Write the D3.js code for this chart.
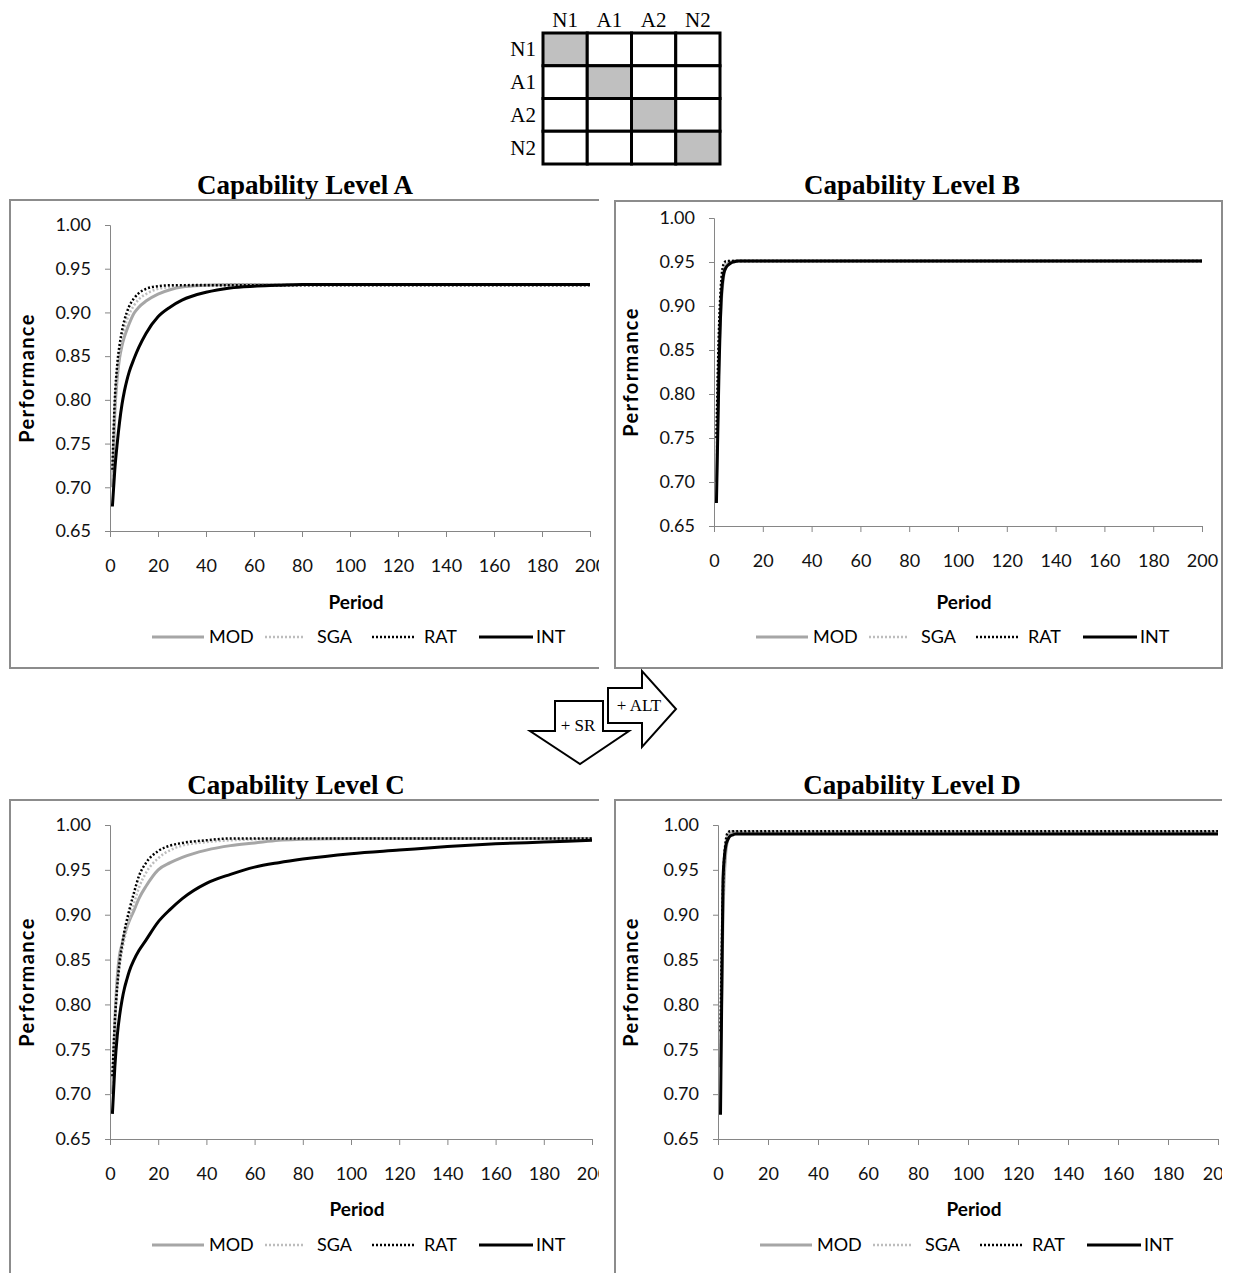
<html>
<head>
    <title>Capability levels</title>
    <meta charset="UTF-8" />
    <script src="https://d3js.org/d3.v7.min.js"></script>
    <style>
        body { margin: 0; background: #fff; }
        .axis .domain, .axis line { stroke: #868686; }
        .axis text { font-family: Lato, sans-serif; font-size: 18px; fill: #111; }
        .ttl { font-family: "Liberation Serif", serif; font-weight: bold; font-size: 27px; }
        .lbl { font-family: Lato, sans-serif; font-weight: bold; font-size: 19px; }
        .perf { letter-spacing: 1.4px; font-size: 20px; }
        .leg { font-family: Lato, sans-serif; font-size: 18px; }
        .mx { font-family: "Liberation Serif", serif; font-size: 21px; }
    </style>
</head>
<body>
<svg id="svg1" width="1239" height="1273"></svg>
<script>
// periods sampled from the curves
const periods = [1,2,3,4,5,6,7,8,10,12,15,20,25,30,40,50,60,70,80,100,120,140,160,180,200];

const modA = [.700,.785,.825,.848,.862,.872,.880,.887,.899,.906,.913,.921,.926,.929,.931,.932,.932,.932,.932,.932,.932,.932,.932,.932,.932];
const sgaA = [.710,.790,.830,.853,.869,.881,.891,.898,.908,.915,.921,.927,.929,.931,.932,.932,.932,.932,.932,.932,.932,.932,.932,.932,.932];
const ratA = [.720,.800,.840,.863,.879,.891,.900,.907,.916,.922,.927,.930,.931,.931,.931,.931,.931,.931,.931,.931,.931,.931,.931,.931,.931];
const intA = [.678,.720,.750,.775,.795,.810,.822,.832,.847,.860,.876,.895,.906,.914,.923,.928,.930,.931,.932,.932,.932,.932,.932,.932,.932];

const modB = [.700,.840,.905,.935,.945,.949,.950,.951,.951,.951,.951,.951,.951,.951,.951,.951,.951,.951,.951,.951,.951,.951,.951,.951,.951];
const sgaB = [.730,.860,.920,.945,.950,.951,.951,.951,.951,.951,.951,.951,.951,.951,.951,.951,.951,.951,.951,.951,.951,.951,.951,.951,.951];
const ratB = [.750,.870,.930,.948,.951,.951,.951,.951,.951,.951,.951,.951,.951,.951,.951,.951,.951,.951,.951,.951,.951,.951,.951,.951,.951];
const intB = [.676,.820,.910,.937,.944,.947,.949,.950,.951,.951,.951,.951,.951,.951,.951,.951,.951,.951,.951,.951,.951,.951,.951,.951,.951];

const modC = [.700,.780,.830,.856,.867,.878,.886,.893,.905,.918,.932,.950,.958,.964,.972,.977,.980,.983,.984,.985,.985,.985,.985,.985,.985];
const sgaC = [.710,.780,.818,.843,.860,.873,.884,.895,.913,.930,.947,.963,.972,.977,.981,.983,.984,.985,.985,.985,.985,.985,.985,.985,.985];
const ratC = [.720,.780,.820,.847,.866,.882,.894,.905,.925,.943,.958,.971,.977,.980,.983,.985,.985,.985,.985,.985,.985,.985,.985,.985,.985];
const intC = [.678,.730,.765,.788,.805,.818,.828,.837,.850,.860,.872,.892,.906,.918,.935,.945,.953,.958,.962,.968,.972,.976,.979,.981,.983];

const modD = [.730,.900,.965,.985,.990,.992,.992,.992,.992,.992,.992,.992,.992,.992,.992,.992,.992,.992,.992,.992,.992,.992,.992,.992,.992];
const sgaD = [.750,.920,.975,.990,.993,.993,.993,.993,.993,.993,.993,.993,.993,.993,.993,.993,.993,.993,.993,.993,.993,.993,.993,.993,.993];
const ratD = [.770,.930,.980,.992,.993,.993,.993,.993,.993,.993,.993,.993,.993,.993,.993,.993,.993,.993,.993,.993,.993,.993,.993,.993,.993];
const intD = [.677,.940,.975,.984,.988,.989,.990,.990,.990,.990,.990,.990,.990,.990,.990,.990,.990,.990,.990,.990,.990,.990,.990,.990,.990];

const seriesNames = ["MOD", "SGA", "RAT", "INT"];
const yTicks = [0.65,0.70,0.75,0.80,0.85,0.90,0.95,1.00];
const xTicks = [0,20,40,60,80,100,120,140,160,180,200];
const matrixLabels = ["N1", "A1", "A2", "N2"];

// line styles per series
const styles = {
    MOD: {stroke: "#a6a6a6", width: 3, dash: null},
    SGA: {stroke: "#bdbdbd", width: 2.5, dash: "2,2"},
    RAT: {stroke: "#000", width: 2.5, dash: "2,2"},
    INT: {stroke: "#000", width: 3, dash: null}
};

const panels = [
    {title: "Capability Level A", data: [modA, sgaA, ratA, intA],
     box: [10, 200, 600, 468], clipW: 599, plot: [110, 590, 225, 531],
     titleX: 305, titleY: 194, perfX: 34, periodY: 609, legendY: 637},
    {title: "Capability Level B", data: [modB, sgaB, ratB, intB],
     box: [615, 201, 607, 467], clipW: 1239, plot: [714, 1202, 218, 526],
     titleX: 912, titleY: 194, perfX: 638, periodY: 609, legendY: 637},
    {title: "Capability Level C", data: [modC, sgaC, ratC, intC],
     box: [10, 800, 600, 520], clipW: 599, plot: [110, 592, 825, 1139],
     titleX: 296, titleY: 794, perfX: 34, periodY: 1216, legendY: 1245},
    {title: "Capability Level D", data: [modD, sgaD, ratD, intD],
     box: [615, 800, 640, 520], clipW: 1222, plot: [718, 1218, 825, 1139],
     titleX: 912, titleY: 794, perfX: 638, periodY: 1216, legendY: 1245}
];

const svg1 = d3.select("svg#svg1");

// legend item offsets from legend start
const legendLayout = [
    {line: [0, 52], text: 57},
    {line: [113, 153], text: 165},
    {line: [220, 262], text: 272},
    {line: [327, 381], text: 384}
];

panels.forEach((p, i) => {
    svg1.append("clipPath").attr("id", "clip" + i)
        .append("rect").attr("x", 0).attr("y", 0).attr("width", p.clipW).attr("height", 1273);

    svg1.append("text").attr("class", "ttl")
        .attr("x", p.titleX).attr("y", p.titleY)
        .attr("text-anchor", "middle")
        .text(p.title);

    const g = svg1.append("g").attr("clip-path", "url(#clip" + i + ")");

    g.append("rect")
        .attr("x", p.box[0]).attr("y", p.box[1])
        .attr("width", p.box[2]).attr("height", p.box[3])
        .attr("fill", "#fff").attr("stroke", "#8c8c8c").attr("stroke-width", 2);

    const xScale = d3.scaleLinear().domain([0, 200]).range([p.plot[0], p.plot[1]]);
    const yScale = d3.scaleLinear().domain([0.65, 1.00]).range([p.plot[3], p.plot[2]]);

    g.append("g").attr("class", "axis")
        .attr("transform", "translate(" + p.plot[0] + ",0)")
        .call(d3.axisLeft(yScale).tickValues(yTicks).tickFormat(d3.format(".2f"))
              .tickSizeOuter(0).tickSize(5).tickPadding(14));

    g.append("g").attr("class", "axis")
        .attr("transform", "translate(0," + p.plot[3] + ")")
        .call(d3.axisBottom(xScale).tickValues(xTicks)
              .tickSizeOuter(0).tickSize(6).tickPadding(22));

    const lineGen = d3.line()
        .x((d, k) => xScale(periods[k]))
        .y(d => yScale(d))
        .curve(d3.curveMonotoneX);

    p.data.forEach((vals, k) => {
        const st = styles[seriesNames[k]];
        g.append("path")
            .attr("d", lineGen(vals))
            .attr("fill", "none")
            .attr("stroke", st.stroke)
            .attr("stroke-width", st.width)
            .attr("stroke-dasharray", st.dash);
    });

    const cx = (p.plot[0] + p.plot[1]) / 2 + 6;
    g.append("text").attr("class", "lbl")
        .attr("x", cx).attr("y", p.periodY)
        .attr("text-anchor", "middle").text("Period");

    g.append("text").attr("class", "lbl perf")
        .attr("transform", "translate(" + p.perfX + "," + (p.plot[2] + p.plot[3]) / 2 + ") rotate(-90)")
        .attr("text-anchor", "middle").text("Performance");

    const lx = p.plot[0] + 42;
    seriesNames.forEach((name, k) => {
        const st = styles[name];
        const lay = legendLayout[k];
        g.append("line")
            .attr("x1", lx + lay.line[0]).attr("x2", lx + lay.line[1])
            .attr("y1", p.legendY).attr("y2", p.legendY)
            .attr("stroke", st.stroke).attr("stroke-width", st.width)
            .attr("stroke-dasharray", st.dash);
        g.append("text").attr("class", "leg")
            .attr("x", lx + lay.text).attr("y", p.legendY + 6)
            .text(name);
    });
});

// interaction matrix at the top
const mxX = d3.scaleBand().domain(matrixLabels).range([543, 720]);
const mxY = d3.scaleBand().domain(matrixLabels).range([33, 164]);
const mx = svg1.append("g");
matrixLabels.forEach(r => {
    matrixLabels.forEach(c => {
        mx.append("rect")
            .attr("x", mxX(c)).attr("y", mxY(r))
            .attr("width", mxX.bandwidth()).attr("height", mxY.bandwidth())
            .attr("fill", r === c ? "#c0c0c0" : "#fff")
            .attr("stroke", "#000").attr("stroke-width", 3);
    });
});
mx.selectAll("text.col").data(matrixLabels).join("text")
    .attr("class", "mx col")
    .attr("x", d => mxX(d) + mxX.bandwidth() / 2).attr("y", 27)
    .attr("text-anchor", "middle").text(d => d);
mx.selectAll("text.row").data(matrixLabels).join("text")
    .attr("class", "mx row")
    .attr("x", 536).attr("y", d => mxY(d) + mxY.bandwidth() / 2 + 7)
    .attr("text-anchor", "end").text(d => d);

// arrows between the panels
const arrows = svg1.append("g");
arrows.append("path")
    .attr("d", "M555,701 L603,701 L603,731 L629,731 L580,764 L530,731 L555,731 Z")
    .attr("fill", "#fff").attr("stroke", "#000").attr("stroke-width", 2);
arrows.append("path")
    .attr("d", "M608,688 L642,688 L642,671 L676,709 L642,747 L642,723 L608,723 Z")
    .attr("fill", "#fff").attr("stroke", "#000").attr("stroke-width", 2);
arrows.append("text").attr("class", "mx").style("font-size", "17px")
    .attr("x", 578).attr("y", 731).attr("text-anchor", "middle").text("+ SR");
arrows.append("text").attr("class", "mx").style("font-size", "17px")
    .attr("x", 639).attr("y", 711).attr("text-anchor", "middle").text("+ ALT");
</script>
</body>
</html>
